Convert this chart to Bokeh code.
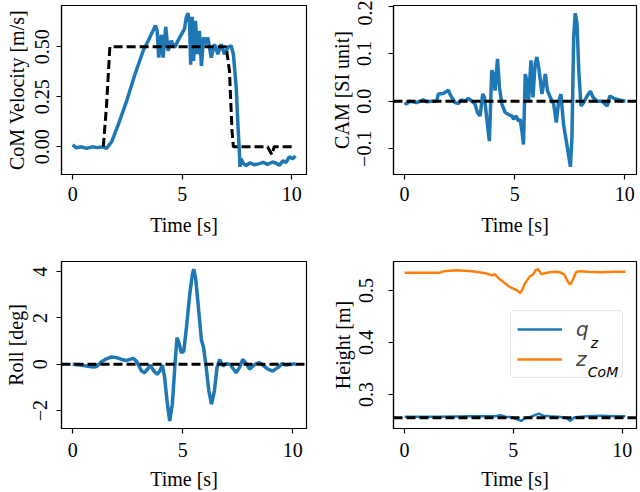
from bokeh.plotting import figure
from bokeh.layouts import gridplot
from bokeh.models import Range1d, FixedTicker, Span, Legend, LegendItem, Label
from bokeh.embed import file_html
from bokeh.resources import INLINE

BLUE = "#1f77b4"
ORANGE = "#ff7f0e"
SERIF = "Liberation Serif"

time_ticks = [0, 5, 10]

# CoM velocity (measured) and commanded velocity
vel_t = [0.0, 0.1, 0.18, 0.4, 0.64, 0.9, 1.1, 1.4, 1.55, 1.78, 2.08, 2.46, 2.84, 3.22,
         3.45, 3.67, 3.78, 3.86, 3.93, 4.05, 4.13, 4.25, 4.36, 4.5, 4.66, 4.89, 5.11,
         5.19, 5.27, 5.34, 5.39, 5.46, 5.52, 5.61, 5.69, 5.79, 5.88, 5.98, 6.1, 6.17,
         6.33, 6.48, 6.63, 6.78, 6.93, 7.09, 7.24, 7.34, 7.47, 7.54, 7.62, 7.64, 7.69,
         7.8, 7.92, 8.1, 8.3, 8.53, 8.7, 8.9, 9.13, 9.3, 9.44, 9.6, 9.75, 9.89, 10.05, 10.17]
vel = [0.01, 0.0, -0.005, 0.0, -0.008, 0.0, -0.004, 0.0, -0.008, 0.025, 0.11, 0.227,
       0.36, 0.48, 0.53, 0.58, 0.606, 0.58, 0.446, 0.56, 0.446, 0.6, 0.48, 0.53, 0.497,
       0.547, 0.59, 0.648, 0.668, 0.615, 0.41, 0.65, 0.43, 0.63, 0.463, 0.58, 0.404,
       0.547, 0.513, 0.547, 0.446, 0.513, 0.463, 0.513, 0.463, 0.497, 0.505, 0.463,
       0.295, 0.126, -0.042, -0.1, -0.059, -0.085, -0.093, -0.08, -0.09, -0.084, -0.078,
       -0.088, -0.076, -0.082, -0.093, -0.07, -0.078, -0.05, -0.06, -0.045]
vel_cmd_t = [1.4, 1.55, 1.7, 7.01, 7.16, 7.28, 7.34, 8.9, 9.05, 9.1, 9.2, 10.0]
vel_cmd = [0.0, 0.21, 0.5, 0.5, 0.38, 0.076, 0.0, 0.0, -0.03, -0.04, 0.0, 0.0]

# centroidal angular momentum
cam_t = [0.0, 0.09, 0.24, 0.55, 0.85, 1.0, 1.23, 1.46, 1.53, 1.76, 1.99, 2.06, 2.29,
         2.44, 2.59, 2.75, 2.9, 3.05, 3.2, 3.31, 3.43, 3.55, 3.63, 3.73, 3.85, 3.96,
         4.04, 4.11, 4.22, 4.31, 4.42, 4.57, 4.72, 4.87, 4.95, 5.07, 5.17, 5.25, 5.33,
         5.4, 5.48, 5.55, 5.63, 5.74, 5.83, 5.93, 6.01, 6.11, 6.24, 6.39, 6.49, 6.62,
         6.77, 6.89, 7.0, 7.1, 7.22, 7.37, 7.53, 7.6, 7.68, 7.75, 7.83, 7.91, 8.01,
         8.13, 8.29, 8.44, 8.56, 8.74, 8.97, 9.2, 9.32, 9.5, 9.8, 10.03]
cam = [-0.003, -0.006, 0.0, -0.003, 0.003, -0.001, 0.0, 0.0, 0.015, 0.016, 0.023,
       0.015, -0.003, -0.005, 0.003, 0.0, 0.006, 0.0, -0.006, -0.024, -0.031, 0.015,
       0.008, -0.035, -0.084, 0.065, 0.057, 0.022, 0.089, 0.029, -0.006, -0.024,
       -0.028, -0.031, -0.038, -0.031, -0.042, -0.038, -0.063, -0.091, 0.057, 0.043,
       0.0, 0.086, 0.008, 0.079, 0.093, 0.065, 0.015, 0.057, 0.022, 0.008, -0.006,
       -0.045, 0.0, 0.015, -0.049, -0.091, -0.138, -0.077, 0.135, 0.185, 0.164, 0.065,
       -0.01, -0.003, 0.011, 0.021, 0.008, 0.0, 0.0, -0.01, 0.011, 0.006, 0.002, 0.0]
cam_ref = 0.0

# base roll angle
roll_t = [0.0, 0.33, 0.63, 0.94, 1.09, 1.31, 1.54, 1.77, 2.0, 2.22, 2.45, 2.75, 2.9,
          3.13, 3.27, 3.43, 3.53, 3.69, 3.84, 3.96, 4.08, 4.18, 4.29, 4.41, 4.53, 4.64,
          4.74, 4.83, 4.94, 5.05, 5.17, 5.32, 5.44, 5.5, 5.59, 5.69, 5.85, 5.95, 6.07,
          6.19, 6.31, 6.44, 6.56, 6.68, 6.83, 6.98, 7.16, 7.28, 7.43, 7.58, 7.73, 7.89,
          8.04, 8.19, 8.34, 8.49, 8.64, 8.87, 9.09, 9.32, 9.52, 9.7, 9.92, 10.12]
roll = [0.0, -0.03, -0.07, -0.11, -0.09, 0.11, 0.24, 0.32, 0.29, 0.21, 0.17, 0.26, 0.14,
        -0.29, -0.36, -0.17, -0.03, -0.29, -0.43, -0.29, -0.03, -0.57, -1.58, -2.44,
        -1.72, -0.14, 1.15, 0.93, 0.5, 0.57, 1.58, 3.01, 3.87, 4.11, 3.72, 2.72, 1.07,
        0.72, -0.14, -1.15, -1.72, -1.15, -0.14, 0.21, -0.07, 0.03, 0.0, -0.17, -0.36,
        -0.14, 0.21, 0.03, -0.21, -0.07, 0.03, 0.07, -0.03, -0.21, -0.29, -0.14, 0.03,
        -0.03, 0.0, 0.03]
roll_ref = 0.0

# heights
qz_t = [0.0, 1.6, 3.12, 4.18, 4.4, 4.63, 4.93, 5.16, 5.36, 5.54, 5.76, 5.99, 6.17, 6.37,
        6.67, 7.05, 7.43, 7.62, 7.81, 8.41, 9.02, 9.62, 10.15]
qz = [0.257, 0.257, 0.258, 0.258, 0.26, 0.257, 0.256, 0.252, 0.249, 0.254, 0.256, 0.26,
      0.263, 0.259, 0.258, 0.257, 0.255, 0.249, 0.256, 0.258, 0.259, 0.258, 0.258]
zcom_t = [0.0, 1.6, 1.83, 2.36, 3.12, 3.72, 4.02, 4.15, 4.33, 4.55, 4.78, 5.01, 5.2,
          5.31, 5.39, 5.54, 5.76, 5.92, 6.02, 6.14, 6.29, 6.44, 6.67, 6.9, 7.13, 7.35,
          7.5, 7.61, 7.73, 7.88, 8.03, 8.41, 9.02, 9.62, 10.15]
zcom = [0.534, 0.534, 0.537, 0.539, 0.537, 0.533, 0.529, 0.531, 0.523, 0.516, 0.508,
        0.503, 0.499, 0.495, 0.5, 0.514, 0.527, 0.531, 0.539, 0.541, 0.531, 0.533, 0.535,
        0.536, 0.535, 0.53, 0.517, 0.511, 0.52, 0.535, 0.537, 0.536, 0.535, 0.536, 0.536]
height_ref = 0.255


def padded(*arrays):
    lo = min(min(a) for a in arrays)
    hi = max(max(a) for a in arrays)
    pad = 0.05 * (hi - lo)
    return Range1d(lo - pad, hi + pad)


def panel(width, height, borders, x_range, y_range, ylabel, yticks, ylabels,
          lab_off, title_off, xlab_off, xtitle_off):
    left, right, top, bottom = borders
    p = figure(width=width, height=height, x_range=x_range, y_range=y_range,
               output_backend="svg", toolbar_location=None,
               min_border_left=left, min_border_right=right,
               min_border_top=top, min_border_bottom=bottom)
    p.grid.visible = False
    p.outline_line_color = "black"
    p.outline_line_alpha = 1.0
    p.outline_line_width = 1.2
    for ax in (p.xaxis[0], p.yaxis[0]):
        ax.axis_line_color = "black"
        ax.axis_line_width = 1.2
        ax.major_tick_out = 5
        ax.major_tick_in = 0
        ax.major_tick_line_width = 1.2
        ax.minor_tick_out = 0
        ax.minor_tick_in = 0
        ax.major_label_text_font = SERIF
        ax.major_label_text_font_size = "20px"
        ax.major_label_text_color = "black"
        ax.axis_label_text_font = SERIF
        ax.axis_label_text_font_size = "20px"
        ax.axis_label_text_font_style = "normal"
        ax.axis_label_text_color = "black"
    p.xaxis.ticker = FixedTicker(ticks=time_ticks)
    p.xaxis.axis_label = "Time [s]"
    p.xaxis.major_label_standoff = xlab_off
    p.xaxis.axis_label_standoff = xtitle_off
    p.yaxis.ticker = FixedTicker(ticks=yticks)
    p.yaxis.major_label_overrides = dict(zip(yticks, ylabels))
    p.yaxis.major_label_orientation = "vertical"
    p.yaxis.major_label_standoff = lab_off
    p.yaxis.axis_label_standoff = title_off
    p.yaxis.axis_label = ylabel
    return p


# CoM velocity panel
p1 = panel(320, 246, (61, 14, 5, 71), padded(vel_t, vel_cmd_t), padded(vel, vel_cmd),
           "CoM Velocity [m/s]", [0.0, 0.25, 0.5], ["0.00", "0.25", "0.50"], 7, 5, 7, 10)
p1.line(vel_t, vel, line_color=BLUE, line_width=3.5)
p1.line(vel_cmd_t, vel_cmd, line_color="black", line_width=3, line_dash="9 4")

# CAM panel
p2 = panel(320, 246, (73, 4, 5, 72), padded(cam_t), padded(cam, [cam_ref]),
           "CAM [SI unit]", [-0.1, 0.0, 0.1, 0.2], ["\u22120.1", "0.0", "0.1", "0.2"],
           17, 2, 7, 10)
p2.line(cam_t, cam, line_color=BLUE, line_width=3.5)
p2.add_layout(Span(location=cam_ref, dimension="width", line_color="black",
                   line_width=3, line_dash="9 4"))

# roll panel
p3 = panel(320, 246, (61, 14, 15, 62), padded(roll_t), padded(roll, [roll_ref]),
           "Roll [deg]", [-2, 0, 2, 4], ["\u22122", "0", "2", "4"], 9, 4, 9, 8)
p3.line(roll_t, roll, line_color=BLUE, line_width=3.5)
p3.add_layout(Span(location=roll_ref, dimension="width", line_color="black",
                   line_width=3, line_dash="9 4"))

# height panel
p4 = panel(320, 246, (73, 4, 15, 62), padded(qz_t, zcom_t), padded(qz, zcom),
           "Height [m]", [0.3, 0.4, 0.5], ["0.3", "0.4", "0.5"], 15, 3, 9, 8)
r_qz = p4.line(qz_t, qz, line_color=BLUE, line_width=2.5)
r_zc = p4.line(zcom_t, zcom, line_color=ORANGE, line_width=2.5)
p4.add_layout(Span(location=height_ref, dimension="width", line_color="black",
                   line_width=3, line_dash="9 4"))

legend = Legend(items=[LegendItem(label="q", renderers=[r_qz]),
                       LegendItem(label="z", renderers=[r_zc])],
                location=(117, 50), orientation="vertical",
                margin=0, padding=6, spacing=6,
                glyph_width=45, glyph_height=20, label_standoff=14,
                label_width=40, label_height=20,
                label_text_font="DejaVu Sans", label_text_font_style="italic",
                label_text_font_size="20px",
                border_line_color="#cccccc", border_line_width=1.2,
                border_radius=4, background_fill_alpha=0.0)
p4.add_layout(legend)
for txt, xx, yy in (("z", 8.56, 0.398), ("CoM", 8.42, 0.343)):
    p4.add_layout(Label(x=xx, y=yy, text=txt, text_font="DejaVu Sans",
                        text_font_style="italic", text_font_size="14px",
                        text_baseline="alphabetic", text_color="black",
                        text_alpha=1.0, level="overlay"))

grid = gridplot([[p1, p2], [p3, p4]], toolbar_location=None)

open("out.html", "w").write(file_html(grid, INLINE))
